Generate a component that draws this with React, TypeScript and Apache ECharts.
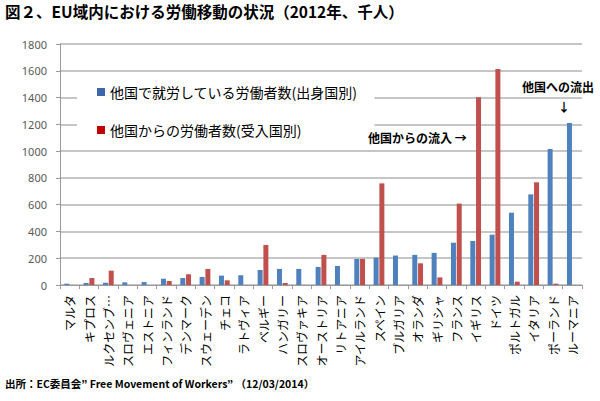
import React, { useEffect, useRef } from "react";
import * as echarts from "echarts";

const categories = [
  "マルタ", "キプロス", "ルクセンブ…", "スロヴェニア", "エストニア", "フィンランド",
  "デンマーク", "スウェーデン", "チェコ", "ラトヴィア", "ベルギー", "ハンガリー",
  "スロヴァキア", "オーストリア", "リトアニア", "アイルランド", "スペイン", "ブルガリア",
  "オランダ", "ギリシャ", "フランス", "イギリス", "ドイツ", "ポルトガル", "イタリア",
  "ポーランド", "ルーマニア",
];

const workingAbroad = [
  10, 15, 17, 20, 22, 47, 52, 60, 70, 73, 112, 120, 120, 135, 142, 195, 205, 220,
  225, 240, 316, 329, 376, 540, 677, 1016, 1210,
];

const fromAbroad = [
  0, 52, 107, 0, 0, 30, 80, 120, 35, 0, 299, 15, 0, 225, 0, 195, 759, 0, 162, 57,
  608, 1402, 1614, 25, 767, 10, 0,
];

const seriesNames = ["他国で就労している労働者数(出身国別)", "他国からの労働者数(受入国別)"];
const yTicks = { min: 0, max: 1800, interval: 200 };

const titleText = "図２、EU域内における労働移動の状況（2012年、千人）";
const sourceText = "出所：EC委員会\u201d Free Movement of Workers\u201d （12/03/2014）";
const noteIn = "他国からの流入 →";
const noteOut = "他国への流出";

const JP = "'Noto Sans CJK JP', 'Noto Sans', sans-serif";

export default function App() {
  const ref = useRef<HTMLDivElement>(null);
  useEffect(() => {
    if (!ref.current) return;
    const chart = echarts.init(ref.current, undefined, { renderer: "svg" });
    chart.setOption({
      animation: false,
      backgroundColor: "#ffffff",
      grid: { left: 60, right: 18, top: 44, bottom: 116, containLabel: false },
      legend: {
        orient: "vertical",
        left: 77,
        top: 79,
        padding: [6, 17, 6, 20],
        backgroundColor: "#ffffff",
        itemGap: 24,
        itemWidth: 8,
        itemHeight: 8,
        icon: "rect",
        textStyle: { fontFamily: JP, fontSize: 14, color: "#000000" },
        data: [
          { name: seriesNames[0], itemStyle: { color: "#3F67A8" } },
          { name: seriesNames[1], itemStyle: { color: "#C00000" } },
        ],
      },
      xAxis: {
        type: "category",
        data: categories,
        axisLine: { show: true, lineStyle: { color: "#9A9A9A", width: 1 } },
        axisTick: { show: true, alignWithLabel: false, length: 4, lineStyle: { color: "#9A9A9A" } },
        axisLabel: {
          interval: 0,
          rotate: 90,
          margin: 10,
          fontFamily: JP,
          fontSize: 12,
          color: "#000000",
        },
      },
      yAxis: {
        type: "value",
        min: yTicks.min,
        max: yTicks.max,
        interval: yTicks.interval,
        axisLine: { show: true, lineStyle: { color: "#9A9A9A", width: 1 } },
        axisTick: { show: true, length: 4, lineStyle: { color: "#9A9A9A" } },
        axisLabel: {
          margin: 13,
          fontFamily: "'Noto Sans', sans-serif",
          fontSize: 11,
          color: "#595959",
          formatter: (v: number) => String(v),
        },
        splitLine: { show: true, lineStyle: { color: "#B3B3B3", width: 1.5 } },
      },
      series: [
        {
          name: seriesNames[0],
          type: "bar",
          data: workingAbroad,
          barWidth: 5,
          barGap: "15%",
          itemStyle: { color: "#4F81BD" },
        },
        {
          name: seriesNames[1],
          type: "bar",
          data: fromAbroad,
          barWidth: 5,
          barGap: "15%",
          itemStyle: { color: "#C0504D" },
        },
      ],
      graphic: [
        {
          type: "text",
          left: 5,
          top: 3,
          style: { text: titleText, font: `bold 15.5px ${JP}`, fill: "#000000" },
        },
        {
          type: "text",
          left: 5,
          top: 378,
          style: { text: sourceText, font: `bold 10.5px ${JP}`, fill: "#000000" },
        },
        {
          type: "text",
          left: 368,
          top: 131,
          z: 10,
          style: { text: noteIn, font: `bold 12px ${JP}`, fill: "#000000" },
        },
        {
          type: "text",
          left: 522,
          top: 80,
          z: 10,
          style: { text: noteOut, font: `bold 12px ${JP}`, fill: "#000000" },
        },
        {
          type: "text",
          left: 558,
          top: 100,
          z: 10,
          style: { text: "↓", font: `bold 12px ${JP}`, fill: "#000000" },
        },
      ],
    });
    return () => chart.dispose();
  }, []);
  return (
    <div
      ref={ref}
      style={{ position: "fixed", left: 0, top: 0, width: 600, height: 401 }}
    />
  );
}
